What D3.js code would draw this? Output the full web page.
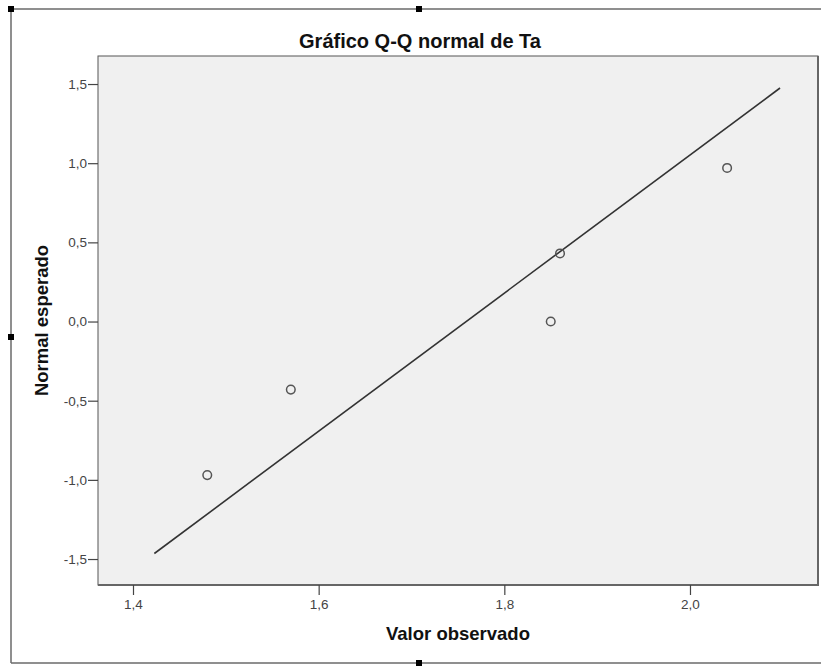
<!DOCTYPE html>
<html>
<head>
<meta charset="utf-8">
<script src="https://cdn.jsdelivr.net/npm/d3@7"></script>
<style>
  body { margin: 0; background: #fff; }
  svg { display: block; font-family: "Liberation Sans", Arial, sans-serif; }
</style>
</head>
<body>
<svg id="chart" width="821" height="666"></svg>
<script>
// observed values and expected normal scores
var observed = [1.48, 1.57, 1.85, 1.86, 2.04];
var expected = [-0.97, -0.43, 0.0, 0.43, 0.97];
// reference line endpoints
var lineX = [1.423, 2.097];
var lineY = [-1.465, 1.475];
var xTicks = [1.4, 1.6, 1.8, 2.0];
var yTicks = [-1.5, -1.0, -0.5, 0.0, 0.5, 1.0, 1.5];

var svg = d3.select("#chart");
var plot = {left: 98, top: 56, right: 818, bottom: 585};

var x = d3.scaleLinear().domain([1.3623, 2.1379]).range([plot.left, plot.right]);
var y = d3.scaleLinear().domain([-1.664, 1.677]).range([plot.bottom, plot.top]);
var fmt = function(d){ return d3.format(".1f")(d).replace(".", ",").replace("−", "-"); };

// outer selection frame
var frame = svg.append("g").attr("stroke", "#6a6a6a").attr("stroke-width", 1.5);
frame.append("line").attr("x1", 11).attr("y1", 9).attr("x2", 821).attr("y2", 9);
frame.append("line").attr("x1", 11).attr("y1", 9).attr("x2", 11).attr("y2", 663);
frame.append("line").attr("x1", 11).attr("y1", 663).attr("x2", 821).attr("y2", 663);
[[11, 9], [419, 9], [11, 337], [419, 663]].forEach(function(p){
    svg.append("rect").attr("x", p[0] - 3).attr("y", p[1] - 3)
        .attr("width", 6).attr("height", 6).attr("fill", "#000");
});

// plot background
svg.append("rect")
    .attr("x", plot.left).attr("y", plot.top)
    .attr("width", plot.right - plot.left).attr("height", plot.bottom - plot.top)
    .attr("fill", "#f0f0f0").attr("stroke", "#555").attr("stroke-width", 1);
svg.append("line").attr("x1", plot.right).attr("y1", plot.top).attr("x2", plot.right).attr("y2", plot.bottom + 1)
    .attr("stroke", "#666").attr("stroke-width", 2);
svg.append("line").attr("x1", plot.left).attr("y1", plot.bottom).attr("x2", plot.right + 1).attr("y2", plot.bottom)
    .attr("stroke", "#666").attr("stroke-width", 2);

// axes
var yAxis = svg.append("g")
    .attr("transform", "translate(" + plot.left + ",0)")
    .call(d3.axisLeft(y).tickValues(yTicks).tickFormat(fmt).tickSize(10).tickPadding(1));
var xAxis = svg.append("g")
    .attr("transform", "translate(0," + plot.bottom + ")")
    .call(d3.axisBottom(x).tickValues(xTicks).tickFormat(fmt).tickSize(10).tickPadding(4));
[xAxis, yAxis].forEach(function(a){
    a.select(".domain").remove();
    a.selectAll(".tick line").attr("stroke", "#444").attr("stroke-width", 1.2);
    a.selectAll(".tick text").attr("fill", "#444").style("font-size", "13.5px")
        .style("font-family", "'Liberation Sans', Arial, sans-serif");
});

// reference line
svg.append("line")
    .attr("x1", x(lineX[0])).attr("y1", y(lineY[0]))
    .attr("x2", x(lineX[1])).attr("y2", y(lineY[1]))
    .attr("stroke", "#333").attr("stroke-width", 1.6);

// points
svg.selectAll(".dot")
    .data(observed)
    .enter().append("circle")
    .attr("class", "dot")
    .attr("cx", function(d){ return x(d); })
    .attr("cy", function(d, i){ return y(expected[i]); })
    .attr("r", 4.3)
    .attr("fill", "none")
    .attr("stroke", "#555")
    .attr("stroke-width", 1.5);

// titles
svg.append("text")
    .attr("x", 420).attr("y", 48)
    .attr("text-anchor", "middle")
    .style("font-size", "20px").style("font-weight", "bold").attr("fill", "#111")
    .text("Gráfico Q-Q normal de Ta");
svg.append("text")
    .attr("x", (plot.left + plot.right) / 2).attr("y", 640)
    .attr("text-anchor", "middle")
    .style("font-size", "18.5px").style("font-weight", "bold").attr("fill", "#111")
    .text("Valor observado");
svg.append("text")
    .attr("transform", "translate(48," + ((plot.top + plot.bottom) / 2) + ") rotate(-90)")
    .attr("text-anchor", "middle")
    .style("font-size", "18.5px").style("font-weight", "bold").attr("fill", "#111")
    .text("Normal esperado");
</script>
</body>
</html>
